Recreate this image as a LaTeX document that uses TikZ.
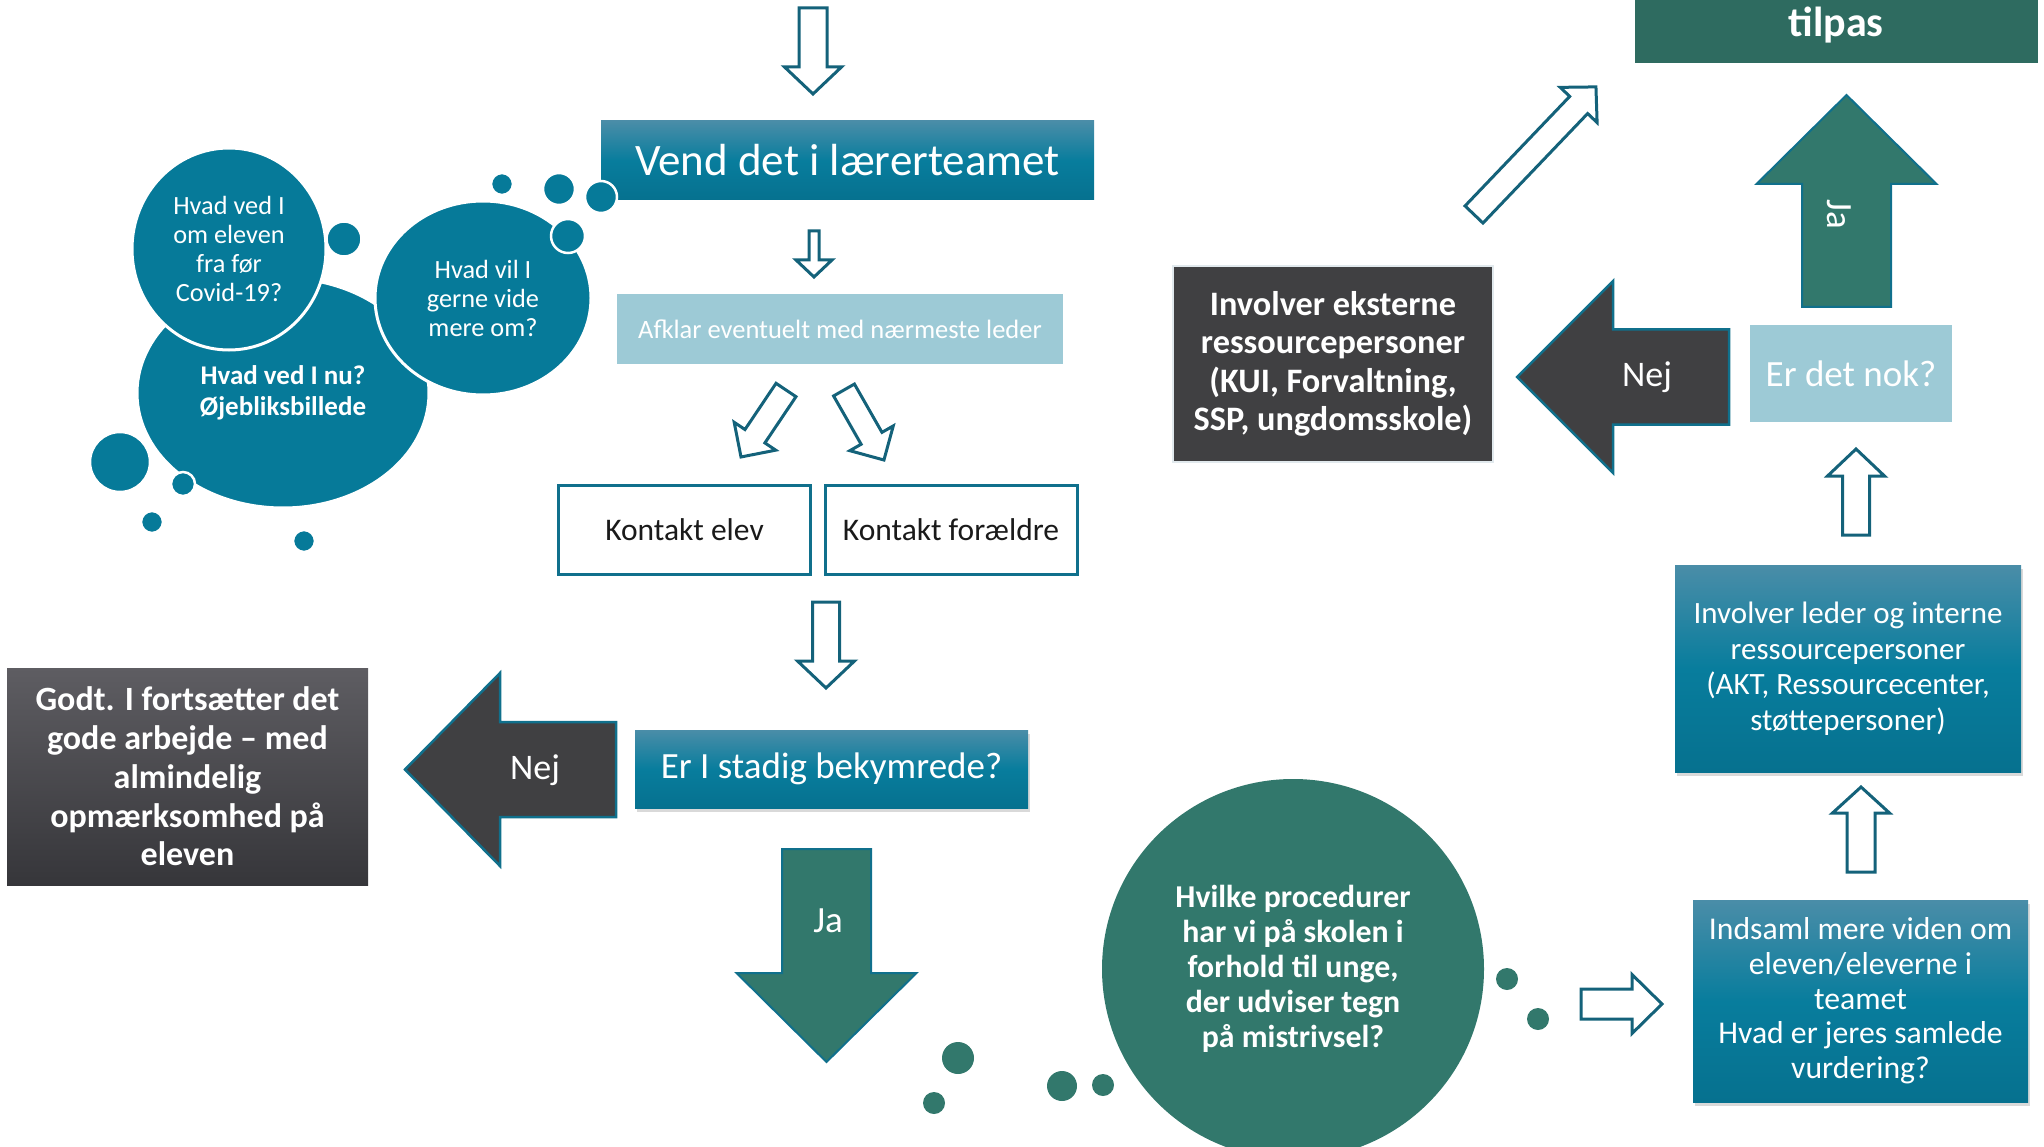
\documentclass[tikz,border=0pt]{standalone}
\usepackage{fontspec}
\setmainfont{Carlito}
\usetikzlibrary{shadows,shapes.geometric}
\definecolor{bub}{RGB}{6,122,153}
\definecolor{btop}{RGB}{74,141,168}
\definecolor{bmid}{RGB}{8,125,157}
\definecolor{bbot}{RGB}{6,113,143}
\definecolor{lblue}{RGB}{157,202,214}
\definecolor{dgray}{RGB}{64,64,66}
\definecolor{gtop}{RGB}{94,93,98}
\definecolor{gbot}{RGB}{54,54,58}
\definecolor{grn}{RGB}{50,120,108}
\definecolor{grndark}{RGB}{46,107,96}
\definecolor{aline}{RGB}{20,98,122}
\definecolor{edgeteal}{RGB}{16,112,140}
\definecolor{paleedge}{RGB}{225,233,237}
\newcommand{\fsz}[2]{\fontsize{#1}{#2}\selectfont}
% style, tail, angle, length, shaft half width, head half width, head length, name
\newcommand{\blockarr}[8]{%
\begin{scope}[shift={#2}, rotate=#3]
\draw[#1] (0,-#5) -- ({#4-#7},-#5) -- ({#4-#7},-#6) -- (#4,0) -- ({#4-#7},#6) -- ({#4-#7},#5) -- (0,#5) -- cycle;
\coordinate (#8) at ({(#4-#7)/2},0);
\end{scope}}
\begin{document}
\begin{tikzpicture}[x=1pt,y=-1pt,
  hollow/.style={draw=aline, line width=3pt, fill=white, line join=miter},
  greenarr/.style={draw=edgeteal, line width=2pt, fill=grn, line join=miter},
  darkarr/.style={draw=edgeteal, line width=2.5pt, fill=dgray, line join=miter},
  tealbox/.style={rectangle, inner sep=0pt, top color=btop, bottom color=bbot, middle color=bmid, text=white, align=center},
  shad/.style={drop shadow={opacity=0.3, shadow xshift=2pt, shadow yshift=-4pt}},
  lbbox/.style={rectangle, inner sep=0pt, fill=lblue, text=white, align=center},
  outbox/.style={rectangle, inner sep=0pt, draw=edgeteal, line width=3pt, fill=white, text={rgb,255:red,26;green,26;blue,26}, minimum width=252pt, minimum height=89pt, font=\fsz{31.5}{36}},
  graybox/.style={rectangle, inner sep=0pt, top color=gtop, bottom color=gbot, text=white, align=center},
  darkbox/.style={rectangle, inner sep=0pt, fill=dgray, draw=paleedge, line width=2pt, text=white, align=center},
  bubble/.style={ellipse, inner sep=0pt, fill=bub, draw=white, line width=3pt, text=white, align=center},
  dot/.style={fill=bub, draw=white, line width=2.5pt},
  gdot/.style={fill=grn},
  lbl/.style={text=white, inner sep=0pt}
]
\useasboundingbox (0,0) rectangle (2044,1147);
\clip (0,0) rectangle (2044,1147);

% boxes
\node[tealbox, minimum width=493pt, minimum height=79pt, font=\fsz{45}{50}] (vend) at (847.5,160.5) {Vend det i lærerteamet};
\node[lbbox, minimum width=446pt, minimum height=70pt, font=\fsz{26.5}{30}] (afklar) at (840,329) {Afklar eventuelt med nærmeste leder};
\node[outbox] (kelev) at (684.5,530) {Kontakt elev};
\node[outbox] (kfor) at (951,530) {Kontakt forældre};
\node[tealbox, shad, minimum width=393pt, minimum height=78pt, font=\fsz{37}{42}] (stadig) at (831.5,769) {Er I stadig bekymrede?};
\node[graybox, minimum width=361pt, minimum height=217pt, font=\bfseries\fsz{34}{38.7}] (godt) at (187.5,776.5) {Godt. I fortsætter det\\gode arbejde – med\\almindelig\\opmærksomhed på\\eleven};
\node[darkbox, minimum width=320pt, minimum height=196pt, font=\bfseries\fsz{34.3}{38.5}] (ekst) at (1333,364) {Involver eksterne\\ressourcepersoner\\(KUI, Forvaltning,\\SSP, ungdomsskole)};
\node[lbbox, minimum width=202pt, minimum height=97pt, font=\fsz{37}{42}] (nok) at (1851,373.5) {Er det nok?};
\node[tealbox, shad, minimum width=346pt, minimum height=207pt, font=\fsz{31}{35.5}] (leder) at (1848,668.5) {Involver leder og interne\\ressourcepersoner\\(AKT, Ressourcecenter,\\støttepersoner)};
\node[tealbox, shad, minimum width=335pt, minimum height=202pt, font=\fsz{31.7}{34.7}] (indsaml) at (1860.5,1001) {Indsaml mere viden om\\eleven/eleverne i\\teamet\\Hvad er jeres samlede\\vurdering?};
\node[rectangle, fill=grndark, inner sep=0pt, minimum width=403pt, minimum height=110pt] (tilpasbox) at (1836.5,8) {};
\node[lbl, font=\bfseries\fsz{42}{46}] (tilpas) at (1836,25) {tilpas};

% bubbles (left)
\node[bubble, minimum width=292pt, minimum height=230pt, font=\bfseries\fsz{27}{30.5}] (nu) at (283,393) {Hvad ved I nu?\\Øjebliksbillede};
\node[bubble, minimum width=194pt, minimum height=202pt, font=\fsz{26.3}{29}] (foer) at (229,249) {Hvad ved I\\om eleven\\fra før\\Covid-19?};
\node[bubble, minimum width=216pt, minimum height=194pt, font=\fsz{26.3}{29}] (vide) at (483,298) {Hvad vil I\\gerne vide\\mere om?};
\filldraw[dot] (344,239) circle (17.5);
\filldraw[dot] (502,184) circle (11);
\filldraw[dot] (559,189) circle (16);
\filldraw[dot] (601,197) circle (16);
\filldraw[dot] (568,236) circle (17);
\filldraw[dot] (120,462) circle (30);
\filldraw[dot] (183,484) circle (12);
\filldraw[dot] (152,522) circle (11);
\filldraw[dot] (304,541) circle (11);

% green bubble and dots
\node[ellipse, inner sep=0pt, fill=grn, minimum width=382pt, minimum height=380pt, text=white, align=center, font=\bfseries\fsz{31.8}{35}] (proc) at (1293,969) {Hvilke procedurer\\har vi på skolen i\\forhold til unge,\\der udviser tegn\\på mistrivsel?};
\fill[gdot] (958,1058) circle (16);
\fill[gdot] (934,1103) circle (11);
\fill[gdot] (1062,1086) circle (15);
\fill[gdot] (1103,1085) circle (11);
\fill[gdot] (1507,979) circle (11);
\fill[gdot] (1538,1019) circle (11);

% block arrows
\blockarr{hollow}{(813,8)}{-90}{86}{14}{28.5}{27}{a1}
\blockarr{hollow}{(814,231)}{-90}{46}{5}{18}{17}{a2}
\blockarr{hollow}{(786,390)}{-123.9}{80.7}{12}{25}{25}{a3}
\blockarr{hollow}{(844,390)}{-60.3}{80.6}{12}{25}{25}{a4}
\blockarr{hollow}{(826,602)}{-90}{86}{13.5}{28.5}{27}{a5}
\blockarr{greenarr}{(826.5,849)}{-90}{213}{44.5}{90}{89}{a6}
\blockarr{darkarr}{(616,769.5)}{180}{211}{47.5}{96.5}{95}{a7}
\blockarr{hollow}{(1581,1004)}{0}{81}{15}{29.5}{30}{a8}
\blockarr{hollow}{(1861,872)}{90}{85}{14}{28.5}{26}{a9}
\blockarr{hollow}{(1856,535)}{90}{86}{13.5}{28.5}{27}{a10}
\blockarr{darkarr}{(1729,377)}{180}{212}{47.5}{96}{96}{a11}
\blockarr{greenarr}{(1846.5,307)}{90}{212}{44.5}{90}{89}{a12}
\blockarr{hollow}{(1474,214.5)}{46.3}{176.5}{12.4}{25.5}{25}{a13}

% arrow labels
\node[lbl, font=\fsz{36}{40}] (nej1) at (535,770) {Nej};
\node[lbl, font=\fsz{36}{40}] (nej2) at (1647,377) {Nej};
\node[lbl, font=\fsz{37}{40}] (ja1) at (828,921) {Ja};
\node[lbl, font=\fsz{37}{40}, rotate=-90] (ja2) at (1839,214) {Ja};
\end{tikzpicture}
\end{document}
